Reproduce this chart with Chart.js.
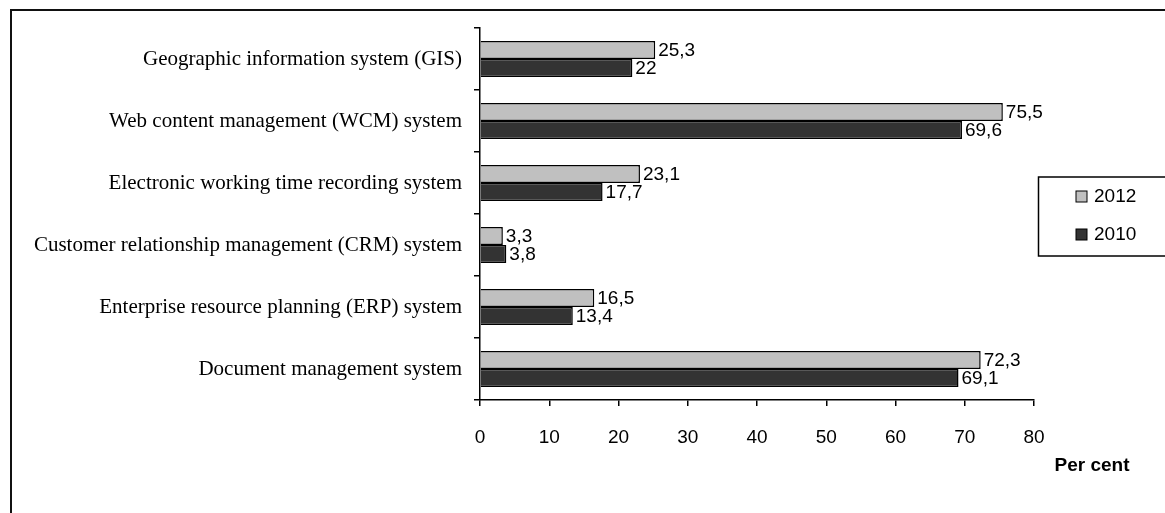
<!DOCTYPE html>
<html>
<head>
<meta charset="utf-8">
<script src="https://cdn.jsdelivr.net/npm/chart.js@4/dist/chart.umd.min.js"></script>
<style>
  html, body { margin: 0; padding: 0; background: #fff; }
  #wrap { width: 1165px; height: 513px; }
</style>
</head>
<body>
<div id="wrap"><canvas id="chart" width="1165" height="513"></canvas></div>
<script>
const categories = [
    "Geographic information system (GIS)",
    "Web content management (WCM) system",
    "Electronic working time recording system",
    "Customer relationship management (CRM) system",
    "Enterprise resource planning (ERP) system",
    "Document management system",
];
const values2012 = [25.3, 75.5, 23.1, 3.3, 16.5, 72.3];
const values2010 = [22, 69.6, 17.7, 3.8, 13.4, 69.1];
const seriesNames = ["2012", "2010"];
const axisTitle = "Per cent";

const sansFont = "'Liberation Sans', Arial, sans-serif";
const serifFont = "'Liberation Serif', 'Times New Roman', serif";

// frame, value labels, legend box and axis title
const extras = {
    id: "extras",
    beforeDraw(chart) {
        const ctx = chart.ctx;
        ctx.save();
        ctx.fillStyle = "#fff";
        ctx.fillRect(0, 0, chart.width, chart.height);
        ctx.strokeStyle = "#111";
        ctx.lineWidth = 2;
        ctx.strokeRect(11, 10, 1300, 700);
        ctx.restore();
    },
    afterDatasetsDraw(chart) {
        const ctx = chart.ctx;
        ctx.save();
        ctx.font = "19px " + sansFont;
        ctx.fillStyle = "#000";
        ctx.textBaseline = "middle";
        ctx.textAlign = "left";
        chart.data.datasets.forEach((ds, i) => {
            chart.getDatasetMeta(i).data.forEach((bar, j) => {
                const txt = String(ds.data[j]).replace(".", ",");
                ctx.fillText(txt, bar.x + 3, bar.y + 1);
            });
        });

        // legend
        ctx.strokeStyle = "#000";
        ctx.lineWidth = 1.5;
        ctx.strokeRect(1038.5, 177, 200, 79);
        const colors = ["#c0c0c0", "#333333"];
        const rows = [197, 235];
        seriesNames.forEach((name, i) => {
            ctx.fillStyle = colors[i];
            ctx.fillRect(1076, rows[i] - 6, 11, 11);
            ctx.lineWidth = 1;
            ctx.strokeRect(1076, rows[i] - 6, 11, 11);
            ctx.fillStyle = "#000";
            ctx.fillText(name, 1094, rows[i]);
        });

        // axis title
        ctx.font = "bold 19px " + sansFont;
        ctx.textAlign = "center";
        ctx.fillText(axisTitle, 1092, 466);
        ctx.restore();
    },
};

const ctx = document.getElementById("chart");

const chart = new Chart(ctx, {
    type: "bar",
    data: {
        labels: categories,
        datasets: [
            {
                label: seriesNames[0],
                data: values2012,
                backgroundColor: "#c0c0c0",
                borderColor: "#000",
                borderWidth: 1.5,
            },
            {
                label: seriesNames[1],
                data: values2010,
                backgroundColor: "#333333",
                borderColor: "#000",
                borderWidth: 1.5,
            },
        ],
    },
    options: {
        indexAxis: "y",
        responsive: false,
        animation: false,
        layout: {
            padding: { top: 28, right: 131, bottom: 0, left: 0 },
        },
        datasets: {
            bar: {
                categoryPercentage: 0.58,
                barPercentage: 1,
            },
        },
        plugins: {
            legend: { display: false },
            tooltip: { enabled: false },
        },
        scales: {
            x: {
                min: 0,
                max: 80,
                ticks: {
                    stepSize: 10,
                    color: "#000",
                    padding: 20,
                    font: { family: sansFont, size: 19 },
                },
                grid: {
                    drawOnChartArea: false,
                    drawTicks: true,
                    tickLength: 6,
                    color: "#000",
                    lineWidth: 1.5,
                },
                border: { color: "#000", width: 1.5 },
                afterFit(scale) { scale.height = 113; },
            },
            y: {
                ticks: {
                    color: "#000",
                    padding: 12,
                    font: { family: serifFont, size: 21 },
                },
                grid: {
                    drawOnChartArea: false,
                    drawTicks: true,
                    tickLength: 6,
                    color: "#000",
                    lineWidth: 1.5,
                },
                border: { color: "#000", width: 1.5 },
                afterFit(scale) { scale.width = 480; },
            },
        },
    },
    plugins: [extras],
});
</script>
</body>
</html>
